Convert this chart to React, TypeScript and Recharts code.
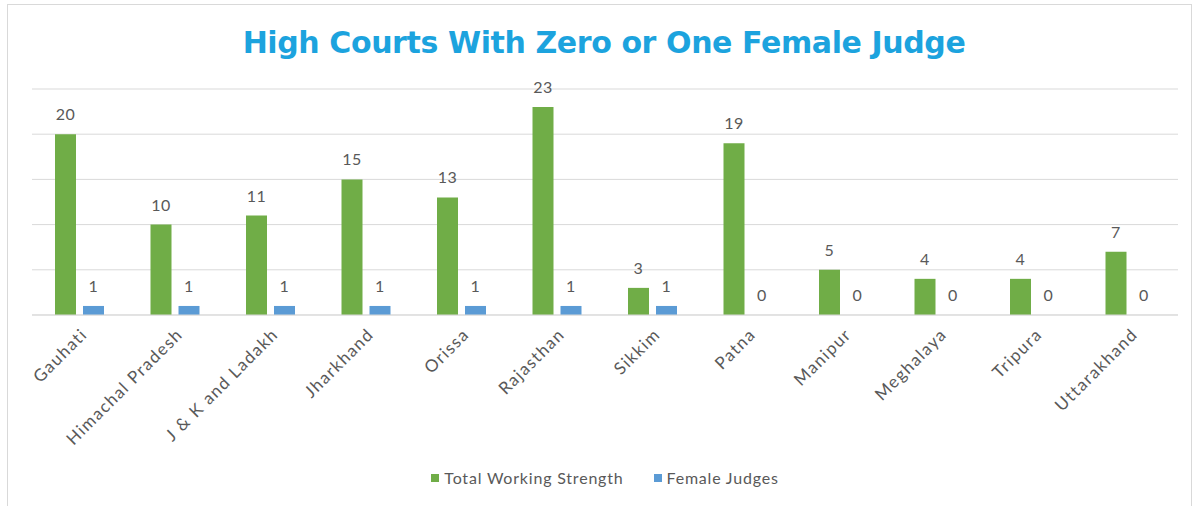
import React from 'react';
import {
    BarChart,
    Bar,
    XAxis,
    YAxis,
    CartesianGrid,
    Legend,
    LabelList
} from 'recharts';

// High courts and their judge counts
const courts = [
    'Gauhati', 'Himachal Pradesh', 'J & K and Ladakh', 'Jharkhand', 'Orissa', 'Rajasthan',
    'Sikkim', 'Patna', 'Manipur', 'Meghalaya', 'Tripura', 'Uttarakhand'
];
const totalStrength = [20, 10, 11, 15, 13, 23, 3, 19, 5, 4, 4, 7];
const femaleJudges = [1, 1, 1, 1, 1, 1, 1, 0, 0, 0, 0, 0];
const yTicks = [0, 5, 10, 15, 20, 25];

const data = courts.map((name, i) => ({
    name,
    total: totalStrength[i],
    female: femaleJudges[i],
}));

const FONT = 'Lato, "Open Sans", sans-serif';
const GREEN = '#70ad47';
const BLUE = '#5b9bd5';
const TEXT = '#595959';
const BAR_GAP = 7;
const LABEL_OFFSET = 14;

function labelText(x: number, y: number, value: number, key: string) {
    return (
        <text
            key={key}
            x={x}
            y={y}
            textAnchor="middle"
            fill={TEXT}
            fontSize={16}
            fontFamily={FONT}
            letterSpacing={0.5}
        >
            {value}
        </text>
    );
}

// Recharts skips labels of zero-height bars, so the green bar's label also
// draws the female label next to it, using the green bar's own scale.
function PairLabel(props: any) {
    const { x, y, width, height, index } = props;
    if (x == null || y == null) return null;
    const bx = Number(x), by = Number(y), w = Number(width), h = Number(height);
    const total = totalStrength[index];
    const female = femaleJudges[index];
    const base = by + h;
    const pxPerUnit = h / total;
    const fy = base - female * pxPerUnit;
    return (
        <g>
            {labelText(bx + w / 2, by - LABEL_OFFSET, total, 't')}
            {labelText(bx + w + BAR_GAP + w / 2, fy - LABEL_OFFSET, female, 'f')}
        </g>
    );
}

function LegendContent() {
    const items = [
        { label: 'Total Working Strength', color: GREEN },
        { label: 'Female Judges', color: BLUE },
    ];
    return (
        <div style={{ display: 'flex', justifyContent: 'center', gap: 30, fontFamily: FONT, fontSize: 16, color: TEXT, letterSpacing: 0.8 }}>
            {items.map((it) => (
                <div key={it.label} style={{ display: 'flex', alignItems: 'center' }}>
                    <span style={{ width: 8, height: 8, background: it.color, display: 'inline-block', marginRight: 5 }} />
                    {it.label}
                </div>
            ))}
        </div>
    );
}

export default function App() {
    return (
        <div style={{ position: 'absolute', left: 0, top: 0, width: 1194, height: 506, background: '#fff', overflow: 'hidden' }}>
            {/* chart frame */}
            <div style={{ position: 'absolute', left: 7, top: 4, width: 1185, height: 520, border: '1px solid #d9d9d9', boxSizing: 'border-box' }} />

            <div style={{
                position: 'absolute', left: 0, top: 28, width: 1208, textAlign: 'center',
                fontFamily: '"DejaVu Sans", sans-serif', fontWeight: 'bold', fontSize: 30, lineHeight: '30px',
                color: '#1ca3de', letterSpacing: -0.4
            }}>
                High Courts With Zero or One Female Judge
            </div>

            <div style={{ position: 'absolute', left: 0, top: 0 }}>
                <BarChart
                    width={1194}
                    height={506}
                    data={data}
                    margin={{ top: 89, right: 16, left: 32, bottom: 0 }}
                    barGap={BAR_GAP}
                    barSize={21}
                >
                    <CartesianGrid vertical={false} stroke="#d9d9d9" />
                    <YAxis hide domain={[0, 25]} ticks={yTicks} />
                    <XAxis
                        dataKey="name"
                        interval={0}
                        height={191}
                        tickLine={false}
                        axisLine={{ stroke: '#d9d9d9' }}
                        angle={-45}
                        textAnchor="end"
                        tickMargin={6}
                        tick={{ fill: TEXT, fontSize: 17, fontFamily: FONT, letterSpacing: 1.4 }}
                    />
                    <Legend
                        verticalAlign="middle"
                        align="center"
                        wrapperStyle={{ top: 468 }}
                        content={<LegendContent />}
                    />
                    <Bar dataKey="total" name="Total Working Strength" fill={GREEN} isAnimationActive={false}>
                        <LabelList dataKey="total" content={PairLabel} />
                    </Bar>
                    <Bar dataKey="female" name="Female Judges" fill={BLUE} isAnimationActive={false} />
                </BarChart>
            </div>
        </div>
    );
}
